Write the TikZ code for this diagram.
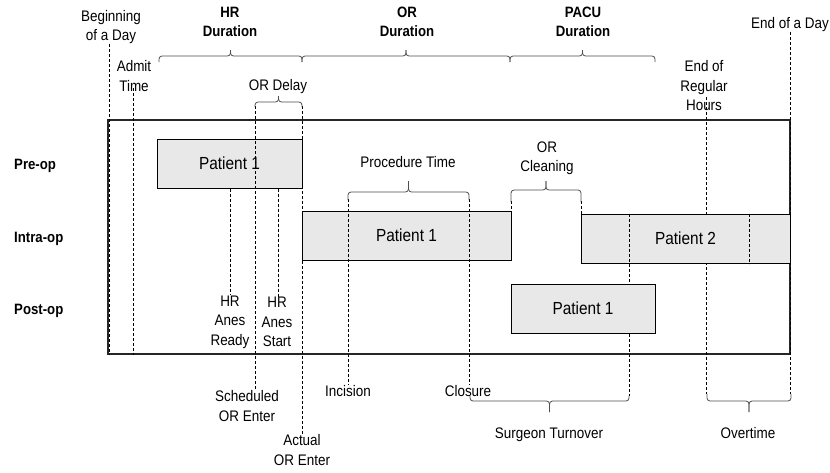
\documentclass[tikz,border=0pt]{standalone}
\usepackage{fontspec}
\setmainfont[FakeStretch=0.88]{Liberation Sans}
\usetikzlibrary{calc}
\tikzset{
  patient/.style={ % one stay of a patient in a stage
    draw=black, line width=1pt, fill=gray!18, rectangle,
    minimum height=49pt, inner sep=0pt, text=black,
    font=\fontsize{17.5}{20}\selectfont
  },
  stage/.style={ % row titles on the left
    anchor=west, inner sep=0pt, font=\fontsize{15}{16}\selectfont\bfseries
  },
  lbl/.style={align=center, inner sep=0pt},
  head/.style={align=center, inner sep=0pt, font=\fontsize{15}{19.5}\selectfont\bfseries},
  tline/.style={black, line width=0.8pt, dash pattern=on 3pt off 2pt},
  span/.style={draw=gray!60!black, line width=0.8pt, rounded corners=3pt}
}
\newcommand{\timebrace}[5]{% ends at x=#1,#2; hooks from y=#3 to bar at y=#4; tip at y=#5
  \draw[span] (#1,#3) -- (#1,#4) -- ({(#1+#2)/2},#4) -- ({(#1+#2)/2},#5);
  \draw[span] (#2,#3) -- (#2,#4) -- ({(#1+#2)/2},#4) -- ({(#1+#2)/2},#5);
}
\begin{document}
\begin{tikzpicture}[x=1pt, y=-1pt, font=\fontsize{15.3}{19.5}\selectfont]
  \useasboundingbox (0,0) rectangle (830,472);

  % time marks along the day
  \coordinate (tBegin) at (109,0);
  \coordinate (tAdmit) at (133,0);
  \coordinate (tReady) at (230,0);
  \coordinate (tSched) at (255,0);
  \coordinate (tStart) at (278,0);
  \coordinate (tActual) at (302,0);
  \coordinate (tInc) at (348,0);
  \coordinate (tClose) at (469,0);
  \coordinate (tClean) at (511,0);
  \coordinate (tNext) at (581,0);
  \coordinate (tP2a) at (629,0);
  \coordinate (tReg) at (706,0);
  \coordinate (tP2b) at (749,0);
  \coordinate (tEnd) at (790,0);

  \node[draw=black!85, line width=1.2pt, minimum width=682pt, minimum height=234pt, inner sep=0pt] (day) at (449,237) {};

  \node[lbl] (begin) at (111,27) {Beginning\\of a Day};
  \node[lbl] (admit) at (134,76) {Admit\\Time};
  \node[head] (hrdur) at (230,22) {HR\\Duration};
  \node[head] (ordur) at (407,22) {OR\\Duration};
  \node[head] (pacudur) at (583,22) {PACU\\Duration};
  \node[lbl] (endday) at (790,25) {End of a Day};
  \node[lbl] (ordelay) at (278,87) {OR Delay};
  \node[lbl] (reghours) at (704,86) {End of\\Regular\\Hours};
  \node[lbl] (proc) at (408,162) {Procedure Time};
  \node[lbl] (clean) at (547,158) {OR\\Cleaning};
  \node[stage] (preop) at (14,166) {Pre-op};
  \node[stage] (intraop) at (14,239) {Intra-op};
  \node[stage] (postop) at (14,311) {Post-op};
  \node[lbl] (ready) at (230,322) {HR\\Anes\\Ready};
  \node[lbl] (start) at (277,322) {HR\\Anes\\Start};
  \node[lbl] (sched) at (247,406) {Scheduled\\OR Enter};
  \node[lbl] (actual) at (302,450) {Actual\\OR Enter};
  \node[lbl] (inc) at (348,391) {Incision};
  \node[lbl] (close) at (468,391) {Closure};
  \node[lbl] (turn) at (549,435) {Surgeon Turnover};
  \node[lbl] (over) at (748,433) {Overtime};

  % marks that run behind the boxes
  \draw[tline] (tBegin |- begin.south) -- (tBegin |- day.south);
  \draw[tline] (tAdmit |- 0,88) -- (tAdmit |- day.south);
  \draw[tline] (tReg |- 0,97) -- (tReg |- 0,394);
  \draw[tline] (tP2a |- 0,214) -- (tP2a |- 0,396);
  \draw[tline] (tEnd |- endday.south) -- (tEnd |- 0,394);
  \draw[tline] (tActual |- 0,106) -- (actual.north);

  \node[patient, minimum width=145pt] (pre1) at (229.5,163.5) {Patient 1};
  \node[patient, minimum width=209pt] (intra1) at (406.5,235.5) {Patient 1};
  \node[patient, minimum width=209pt] (intra2) at (685.5,238.5) {Patient 2};
  \node[patient, minimum width=144pt] (post1) at (583,308.5) {Patient 1};

  % marks in front
  \draw[tline] (tReady |- pre1.south) -- (ready.north);
  \draw[tline] (tStart |- pre1.south) -- (tStart |- start.north);
  \draw[tline] (tSched |- 0,106) -- (tSched |- sched.north);
  \draw[tline] (tInc |- 0,199) -- (inc.north);
  \draw[tline] (tClose |- 0,199) -- (tClose |- close.north);
  \draw[tline] (tClean |- 0,201) -- (tClean |- intra1.north);
  \draw[tline] (tNext |- 0,201) -- (tNext |- intra2.north);
  \draw[tline] (tP2a |- intra2.north) -- (tP2a |- intra2.south);
  \draw[tline] (tP2b |- intra2.north) -- (tP2b |- intra2.south);

  % braces
  \timebrace{159}{302}{62}{56}{50}
  \timebrace{302}{510}{62}{56}{50}
  \timebrace{510}{655}{62}{56}{50}
  \timebrace{255}{302}{107}{102}{96}
  \timebrace{348}{469}{200}{192}{181}
  \timebrace{511}{581}{202}{190}{181}
  \timebrace{470}{629}{396}{401}{412}
  \timebrace{707}{791}{394}{401}{412}
\end{tikzpicture}
\end{document}
